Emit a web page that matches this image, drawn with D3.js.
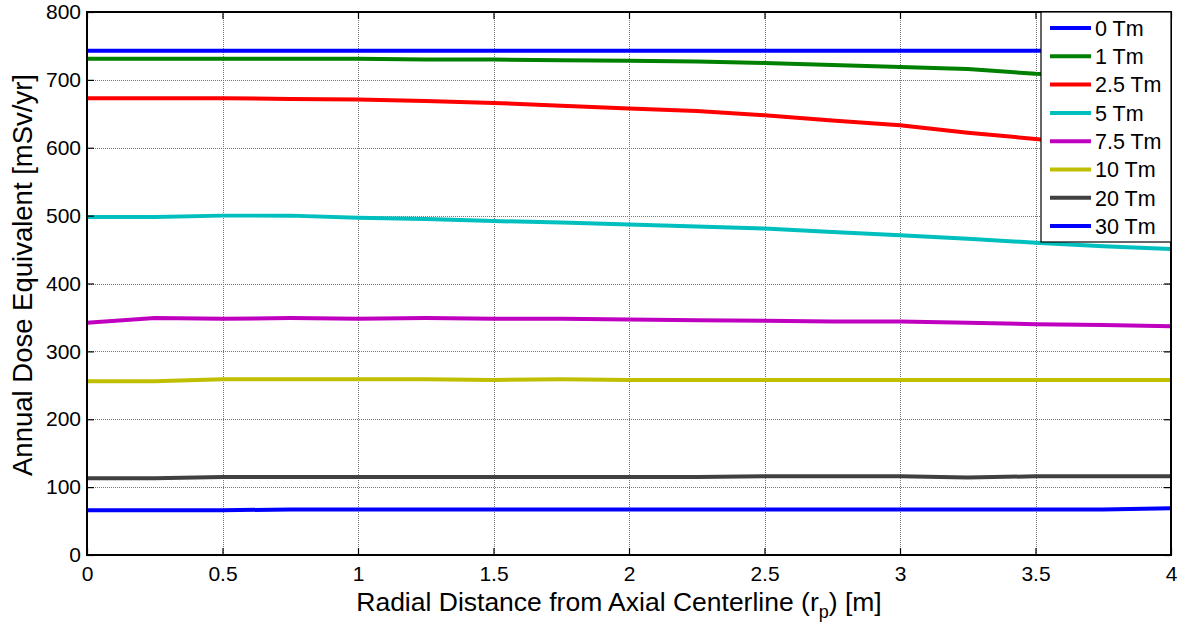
<!DOCTYPE html>
<html>
<head>
<meta charset="utf-8">
<script src="https://cdn.jsdelivr.net/npm/d3@7"></script>
<style>
  body { margin: 0; background: #fff; }
  svg { display: block; font-family: Arial, "Liberation Sans", sans-serif; }
</style>
</head>
<body>
<svg id="chart" width="1178" height="628"></svg>
<script>
// Radial positions [m]
const radialDistance = [0, 0.25, 0.5, 0.75, 1, 1.25, 1.5, 1.75, 2, 2.25, 2.5, 2.75, 3, 3.25, 3.5, 3.75, 4];

// Annual dose equivalent [mSv/yr] for each shield field strength
const dose0Tm   = [743, 743, 743, 743, 743, 743, 743, 743, 743, 743, 743, 743, 743, 743, 743, 743, 743];
const dose1Tm   = [731, 731, 731, 731, 731, 730, 730, 729, 728, 727, 725, 722, 719, 716, 709, 705, 700];
const dose2_5Tm = [673, 673, 673, 672, 671, 669, 666, 662, 658, 654, 648, 640, 633, 622, 613, 603, 592];
const dose5Tm   = [498, 498, 500, 500, 497, 495, 492, 490, 487, 484, 481, 476, 471, 466, 460, 455, 451];
const dose7_5Tm = [342, 349, 348, 349, 348, 349, 348, 348, 347, 346, 345, 344, 344, 342, 340, 339, 337];
const dose10Tm  = [256, 256, 259, 259, 259, 259, 258, 259, 258, 258, 258, 258, 258, 258, 258, 258, 258];
const dose20Tm  = [113, 113, 115, 115, 115, 115, 115, 115, 115, 115, 116, 116, 116, 114, 116, 116, 116];
const dose30Tm  = [66, 66, 66, 67, 67, 67, 67, 67, 67, 67, 67, 67, 67, 67, 67, 67, 69];

const seriesNames  = ["0 Tm", "1 Tm", "2.5 Tm", "5 Tm", "7.5 Tm", "10 Tm", "20 Tm", "30 Tm"];
const seriesValues = [dose0Tm, dose1Tm, dose2_5Tm, dose5Tm, dose7_5Tm, dose10Tm, dose20Tm, dose30Tm];
const seriesColors = ["#0000ff", "#008000", "#ff0000", "#00bfbf", "#bf00bf", "#bfbf00", "#404040", "#0000ff"];

const xTicks = [0, 0.5, 1, 1.5, 2, 2.5, 3, 3.5, 4];
const yTicks = [0, 100, 200, 300, 400, 500, 600, 700, 800];

const svg = d3.select("#chart");
const plotL = 87, plotR = 1171, plotT = 12, plotB = 555;

const x = d3.scaleLinear().domain([0, 4]).range([plotL, plotR]);
const y = d3.scaleLinear().domain([0, 800]).range([plotB, plotT]);

// grid
const grid = svg.append("g").attr("stroke", "#777").attr("stroke-width", 1).attr("stroke-dasharray", "1,1");
xTicks.forEach(t => {
  grid.append("line").attr("x1", Math.round(x(t)) + 0.5).attr("x2", Math.round(x(t)) + 0.5)
    .attr("y1", plotT).attr("y2", plotB);
});
yTicks.forEach(t => {
  grid.append("line").attr("y1", Math.round(y(t)) + 0.5).attr("y2", Math.round(y(t)) + 0.5)
    .attr("x1", plotL).attr("x2", plotR);
});

// data lines
const line = d3.line().x((d, i) => x(radialDistance[i])).y(d => y(d));
const plot = svg.append("g");
seriesValues.forEach((vals, k) => {
  plot.append("path").datum(vals)
    .attr("fill", "none")
    .attr("stroke", seriesColors[k])
    .attr("stroke-width", 4)
    .attr("stroke-linejoin", "round")
    .attr("d", line);
});

// axes with inward ticks (box style)
const tickLen = 7;
const fmt = d => String(d);
svg.append("g").attr("transform", `translate(0,${plotB})`)
  .call(d3.axisBottom(x).tickValues(xTicks).tickFormat(fmt).tickSizeInner(-tickLen).tickSizeOuter(0).tickPadding(11));
svg.append("g").attr("transform", `translate(0,${plotT})`)
  .call(d3.axisTop(x).tickValues(xTicks).tickFormat("").tickSizeInner(-tickLen).tickSizeOuter(0));
svg.append("g").attr("transform", `translate(${plotL},0)`)
  .call(d3.axisLeft(y).tickValues(yTicks).tickFormat(fmt).tickSizeInner(-tickLen).tickSizeOuter(0).tickPadding(6));
svg.append("g").attr("transform", `translate(${plotR},0)`)
  .call(d3.axisRight(y).tickValues(yTicks).tickFormat("").tickSizeInner(-tickLen).tickSizeOuter(0));

svg.selectAll(".domain").remove();
svg.selectAll(".tick line").attr("stroke", "#000").attr("stroke-width", 1.2);
svg.selectAll(".tick text").attr("font-size", 21).attr("fill", "#000")
  .attr("font-family", "Arial, 'Liberation Sans', sans-serif");

// frame
svg.append("rect").attr("x", plotL).attr("y", plotT).attr("width", plotR - plotL).attr("height", plotB - plotT)
  .attr("fill", "none").attr("stroke", "#000").attr("stroke-width", 2);

// axis titles
const xt = svg.append("text").attr("x", 619).attr("y", 611)
  .attr("text-anchor", "middle").attr("font-size", 26.5).attr("fill", "#000");
xt.append("tspan").text("Radial Distance from Axial Centerline (r");
xt.append("tspan").attr("font-size", 18).attr("dy", 7).text("p");
xt.append("tspan").attr("dy", -7).text(") [m]");

svg.append("text")
  .attr("transform", "translate(32,275) rotate(-90)")
  .attr("text-anchor", "middle").attr("font-size", 27.5).attr("fill", "#000")
  .text("Annual Dose Equivalent [mSv/yr]");

// legend
const lg = svg.append("g");
const lgX = 1041, lgY = 12, lgW = 130, lgH = 230, rowH = 28.3;
lg.append("rect").attr("x", lgX).attr("y", lgY).attr("width", lgW).attr("height", lgH)
  .attr("fill", "#fff").attr("stroke", "#000").attr("stroke-width", 1.2);
seriesNames.forEach((name, k) => {
  const cy = lgY + 16 + k * rowH;
  lg.append("line").attr("x1", lgX + 9).attr("x2", lgX + 50).attr("y1", cy).attr("y2", cy)
    .attr("stroke", seriesColors[k]).attr("stroke-width", 4);
  lg.append("text").attr("x", lgX + 54).attr("y", cy).attr("dy", "0.36em")
    .attr("font-size", 21.5).attr("fill", "#000").text(name);
});
</script>
</body>
</html>
